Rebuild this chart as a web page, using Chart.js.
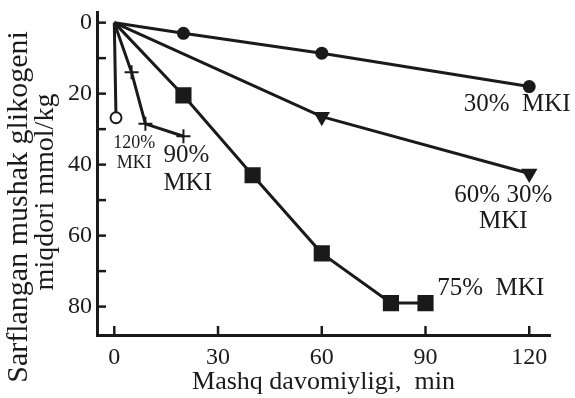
<!DOCTYPE html>
<html>
<head>
<meta charset="utf-8">
<script src="https://cdn.jsdelivr.net/npm/chart.js@4/dist/chart.umd.min.js"></script>
<style>
  html, body { margin: 0; padding: 0; background: #fff; }
</style>
</head>
<body>
<canvas id="chart" width="575" height="398"></canvas>
<script>
// exercise time (min) and used muscle glycogen (mmol/kg) per intensity
var time30 = [0, 20, 60, 120];
var glyc30 = [0, 3, 8.6, 18];
var time60 = [0, 60, 120];
var glyc60 = [0, 26.5, 42.5];
var time75 = [0, 20, 40, 60, 80, 90];
var glyc75 = [0, 20.5, 43, 65, 79, 79];
var time90 = [0, 5, 9, 20];
var glyc90 = [0, 14, 28.5, 32];
var time120 = [0, 0.5];
var glyc120 = [0, 26.8];

var xTicks = [0, 30, 60, 90, 120];
var yTicks = [0, 10, 20, 30, 40, 50, 60, 70, 80];
var yLabelled = [0, 20, 40, 60, 80];

var xTitle = 'Mashq davomiyligi,  min';
var yTitle = ['Sarflangan mushak glikogeni', 'miqdori mmol/kg'];

var serif = '"Liberation Serif", "DejaVu Serif", serif';
var ink = '#1a1a1a';

function pts(xs, ys) {
    return xs.map(function (x, i) { return { x: x, y: ys[i] }; });
}

// hide the marker on the shared origin point
function radius(r) {
    return function (c) { return c.dataIndex === 0 ? 0 : r; };
}

function series(data, style, r, fill, rot) {
    return {
        data: data,
        showLine: true,
        borderColor: ink,
        borderWidth: 3,
        pointStyle: style,
        pointRadius: radius(r),
        pointBackgroundColor: fill,
        pointBorderColor: ink,
        pointBorderWidth: 2,
        pointRotation: rot || 0
    };
}

// text next to each curve, placed in data units
var curveNotes = [
    { lines: ['30%  MKI'], x: 116.5, y: 23, size: 25, align: 'center' },
    { lines: ['60% 30%', 'MKI'], x: 112.5, y: 48.6, size: 25, align: 'center', gap: 7.3 },
    { lines: ['75%  MKI'], x: 93.4, y: 74.8, size: 25, align: 'left' },
    { lines: ['120%', 'MKI'], x: 5.8, y: 34, size: 18, align: 'center', gap: 5.7 },
    { lines: ['90%', 'MKI'], x: 14.2, y: 37.5, size: 25, align: 'left', gap: 7.9 }
];

var notesPlugin = {
    id: 'notes',
    afterDraw: function (chart) {
        var c = chart.ctx, xs = chart.scales.x, ys = chart.scales.y;
        var area = chart.chartArea;
        c.save();
        c.strokeStyle = ink;
        c.lineWidth = 2.5;
        // inward ticks
        ys.ticks.forEach(function (t) {
            var py = ys.getPixelForValue(t.value);
            c.beginPath(); c.moveTo(area.left, py); c.lineTo(area.left + 9, py); c.stroke();
        });
        xs.ticks.forEach(function (t) {
            var px = xs.getPixelForValue(t.value);
            c.beginPath(); c.moveTo(px, area.bottom); c.lineTo(px, area.bottom - 9); c.stroke();
        });
        c.fillStyle = ink;
        c.textBaseline = 'middle';
        curveNotes.forEach(function (n) {
            c.font = n.size + 'px ' + serif;
            c.textAlign = n.align;
            n.lines.forEach(function (s, i) {
                c.fillText(s, xs.getPixelForValue(n.x), ys.getPixelForValue(n.y + i * (n.gap || 0)));
            });
        });
        // y axis title, two rotated lines
        c.textAlign = 'center';
        c.save();
        c.translate(19, 207);
        c.rotate(-Math.PI / 2);
        c.font = '30px ' + serif;
        c.fillText(yTitle[0], 0, 0);
        c.restore();
        c.save();
        c.translate(46, 192);
        c.rotate(-Math.PI / 2);
        c.font = '28px ' + serif;
        c.fillText(yTitle[1], 0, 0);
        c.restore();
        c.restore();
    }
};

new Chart(document.getElementById('chart'), {
    type: 'scatter',
    data: {
        datasets: [
            series(pts(time30, glyc30), 'circle', 5.5, ink),
            series(pts(time60, glyc60), 'triangle', 7.5, ink, 180),
            series(pts(time75, glyc75), 'rect', 10, ink),
            series(pts(time90, glyc90), 'cross', 7, ink),
            series(pts(time120, glyc120), 'circle', 5.5, '#fff')
        ]
    },
    options: {
        responsive: false,
        animation: false,
        devicePixelRatio: 1,
        layout: { padding: { top: 11, right: 25, left: 4, bottom: 0 } },
        plugins: { legend: { display: false }, tooltip: { enabled: false } },
        scales: {
            x: {
                type: 'linear',
                min: -5,
                max: 126,
                afterBuildTicks: function (s) { s.ticks = xTicks.map(function (v) { return { value: v }; }); },
                afterFit: function (s) { s.height = 63; s.paddingLeft = 0; s.paddingRight = 0; },
                grid: { drawOnChartArea: false, drawTicks: false, color: ink },
                border: { color: ink, width: 3 },
                ticks: { color: ink, padding: 8, maxRotation: 0, font: { family: serif, size: 24 } },
                title: { display: true, text: xTitle, color: ink, padding: { top: 0, bottom: 0 }, font: { family: serif, size: 26 } }
            },
            y: {
                reverse: true,
                min: -3,
                max: 88,
                afterBuildTicks: function (s) { s.ticks = yTicks.map(function (v) { return { value: v }; }); },
                afterFit: function (s) { s.width = 93; s.paddingTop = 0; s.paddingBottom = 0; },
                grid: { drawOnChartArea: false, drawTicks: false, color: ink },
                border: { color: ink, width: 3 },
                ticks: {
                    color: ink, padding: 5, font: { family: serif, size: 24 },
                    callback: function (v) { return yLabelled.indexOf(v) >= 0 ? String(v) : ''; }
                },
                title: { display: false }
            }
        }
    },
    plugins: [notesPlugin]
});
</script>
</body>
</html>
